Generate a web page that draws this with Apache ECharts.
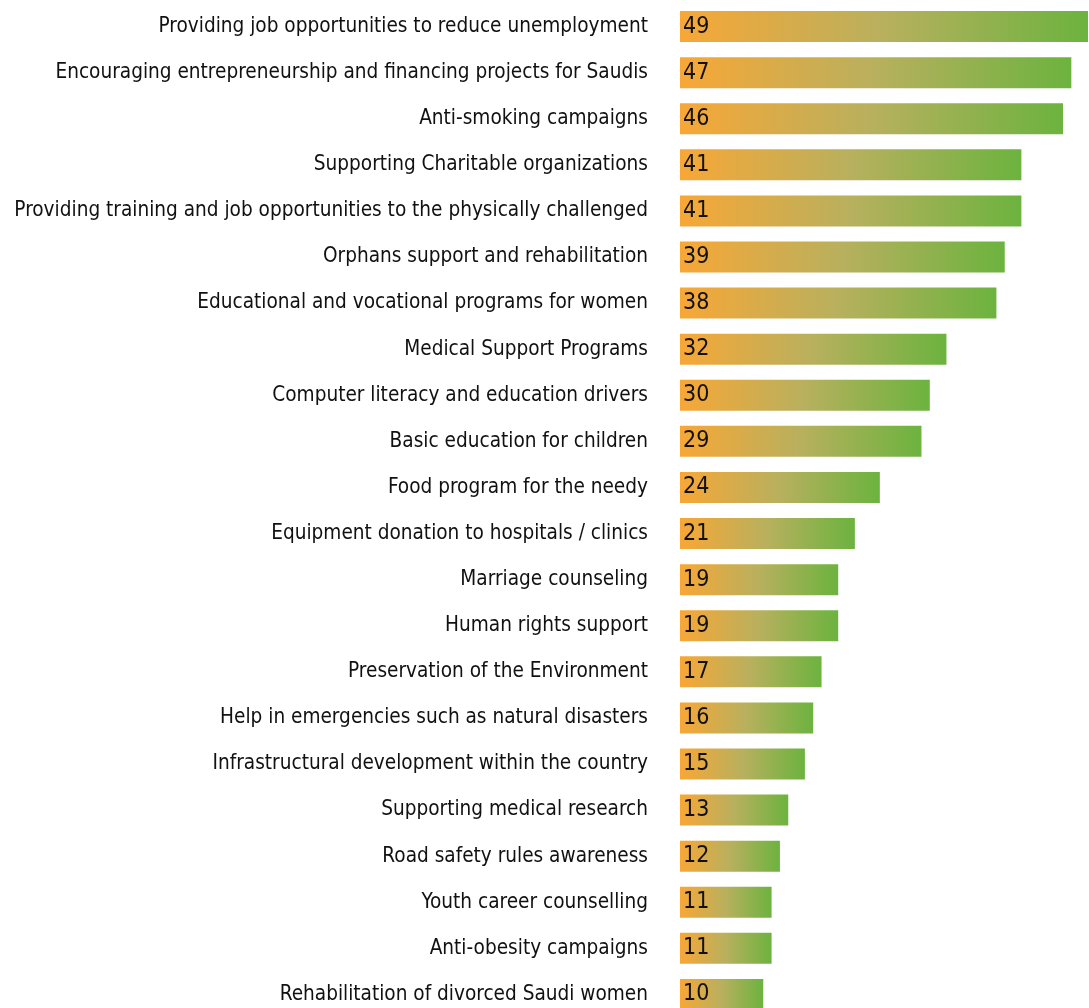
<!DOCTYPE html>
<html>
<head>
<meta charset="utf-8">
<script src="https://cdn.jsdelivr.net/npm/echarts@6/dist/echarts.min.js"></script>
<style>
  html, body { margin: 0; padding: 0; background: #fff; }
  #echarts { width: 1089px; height: 1008px; }
</style>
</head>
<body>
<div id="echarts"></div>
<script>
const categories = [
    'Providing job opportunities to reduce unemployment',
    'Encouraging entrepreneurship and financing projects for Saudis',
    'Anti-smoking campaigns',
    'Supporting Charitable organizations',
    'Providing training and job opportunities to the physically challenged',
    'Orphans support and rehabilitation',
    'Educational and vocational programs for women',
    'Medical Support Programs',
    'Computer literacy and education drivers',
    'Basic education for children',
    'Food program for the needy',
    'Equipment donation to hospitals / clinics',
    'Marriage counseling',
    'Human rights support',
    'Preservation of the Environment',
    'Help in emergencies such as natural disasters',
    'Infrastructural development within the country',
    'Supporting medical research',
    'Road safety rules awareness',
    'Youth career counselling',
    'Anti-obesity campaigns',
    'Rehabilitation of divorced Saudi women'
];
const values = [49, 47, 46, 41, 41, 39, 38, 32, 30, 29, 24, 21, 19, 19, 17, 16, 15, 13, 12, 11, 11, 10];

const chartDom = document.getElementById('echarts');
const myChart = echarts.init(chartDom);
const fontFamily = "'DejaVu Sans Condensed', 'Liberation Sans Narrow', sans-serif";

let option = {
    animation: false,
    grid: {
        left: 680,
        top: 3.5,
        width: 408,
        height: 1014,
        containLabel: false,
        outerBoundsMode: 'none'
    },
    xAxis: {
        type: 'value',
        min: 0,
        max: 49,
        show: false
    },
    yAxis: {
        type: 'category',
        inverse: true,
        data: categories,
        axisLine: { show: false },
        axisTick: { show: false },
        axisLabel: {
            margin: 32,
            fontSize: 20.6,
            color: '#111',
            fontFamily: fontFamily
        }
    },
    series: [
        {
            type: 'bar',
            data: values,
            barWidth: 31,
            itemStyle: {
                color: new echarts.graphic.LinearGradient(0, 0, 1, 0, [
                    { offset: 0, color: '#F8A736' },
                    { offset: 0.5, color: '#B8B05E' },
                    { offset: 1, color: '#6CB33F' }
                ])
            },
            label: {
                // 数值显示在柱子左侧内部
                show: true,
                position: 'insideLeft',
                offset: [-2, 0],
                fontSize: 23,
                color: '#111',
                fontFamily: fontFamily
            }
        }
    ]
};
option && myChart.setOption(option);
</script>
</body>
</html>
